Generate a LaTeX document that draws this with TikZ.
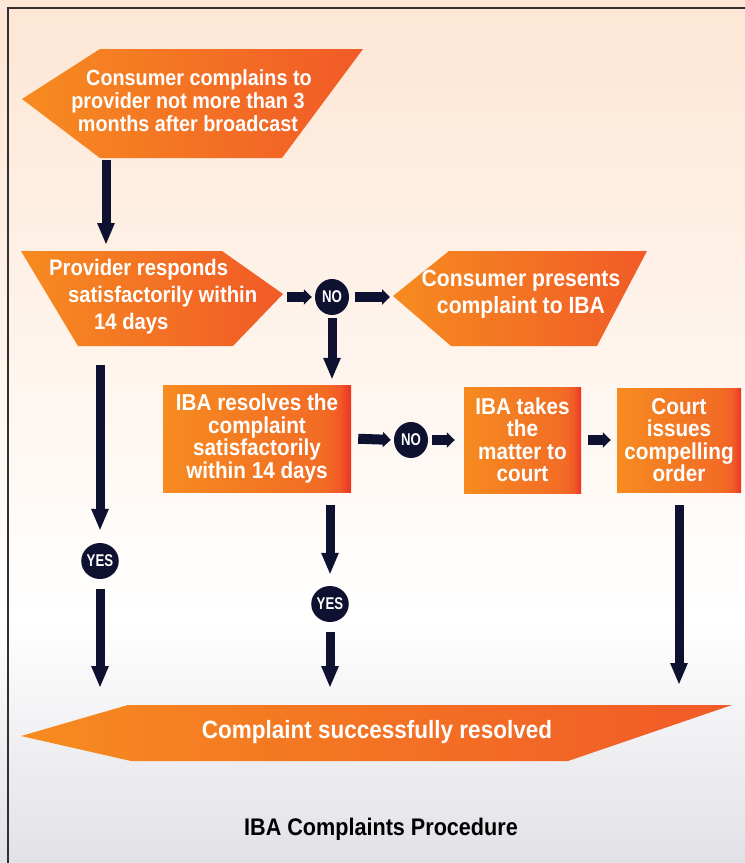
\documentclass[tikz,border=0pt]{standalone}
\usepackage{fontspec}
\setmainfont{Liberation Sans}
\newfontfamily\flowfont{Liberation Sans}[FakeStretch=0.9]
\newfontfamily\tagfont{Liberation Sans}[FakeStretch=0.78]
\usetikzlibrary{arrows.meta,positioning,shapes.geometric}

\definecolor{bgtop}{HTML}{FDE6D4}
\definecolor{bgbot}{HTML}{E1E1E7}
\definecolor{framecol}{HTML}{303030}
\definecolor{navy}{HTML}{0E1130}
\definecolor{orangeL}{HTML}{F68B20}
\definecolor{orangeR}{HTML}{F15A27}
\definecolor{orangeM}{HTML}{F26B25}
\definecolor{redR}{HTML}{EC3324}

% orange box, red strip on the right edge
\pgfdeclarehorizontalshading{boxshade}{100bp}{color(0bp)=(orangeL); color(25bp)=(orangeL);
  color(68bp)=(orangeM); color(72bp)=(orangeR); color(75bp)=(redR); color(100bp)=(redR)}

\begin{document}
\begin{tikzpicture}[x=1pt, y=-1pt,
  shapefill/.style={left color=orangeL, right color=orangeR},
  flowtext/.style={text=white, align=center, inner sep=0pt},
  stepbox/.style={shade, shading=boxshade, text=white, align=center, inner sep=0pt,
    font=\flowfont\bfseries\fontsize{23}{22.5}\selectfont},
  tag/.style={ellipse, fill=navy, text=white, minimum width=34pt, minimum height=36pt,
    inner sep=0pt, font=\tagfont\bfseries\fontsize{17}{17}\selectfont},
  flowV/.style={draw=navy, line width=9pt, -{Triangle[length=22pt,width=16pt]}},
  flowH/.style={draw=navy, line width=10pt, -{Triangle[length=8pt,width=15pt]}}
]
\useasboundingbox (0,0) rectangle (745,863);

% background and frame
\shade[top color=bgtop, bottom color=white] (0,0) rectangle (745,620);
\shade[top color=white, bottom color=bgbot] (0,620) rectangle (745,863);
\draw[framecol, line width=1.3pt] (8,863) -- (8,8) -- (745,8);

% first complaint
\shade[shapefill] (22,99) -- (100,49) -- (363,49) -- (282,158) -- (100,158) -- cycle;
\coordinate (start-s) at (106,160);
\node[flowtext, font=\flowfont\bfseries\fontsize{22}{23}\selectfont] (start) at (188,101)
  {\hspace*{22pt}Consumer complains to\\provider not more than 3\\months after broadcast};

% provider responds
\shade[shapefill] (21,251) -- (222,251) -- (283,294) -- (233,346) -- (78,346) -- cycle;
\coordinate (prov-n) at (106,251);
\coordinate (prov-e) at (283,297);
\coordinate (prov-s) at (100,346);
\node[flowtext, align=left, anchor=west, font=\flowfont\bfseries\fontsize{22.5}{27}\selectfont] (prov) at (49,297)
  {Provider responds\\\hspace*{19pt}satisfactorily within\\\hspace*{45pt}14 days};

\node[tag] (no1) at (332,297) {NO};

% consumer presents
\shade[shapefill] (393,296) -- (449,251) -- (647,251) -- (597,346) -- (451,346) -- cycle;
\coordinate (pres-w) at (393,297);
\node[flowtext, font=\flowfont\bfseries\fontsize{23.5}{27}\selectfont] (pres) at (521,294)
  {Consumer presents\\complaint to IBA};

% IBA row
\node[stepbox, minimum width=188pt, minimum height=107pt] (resolve) at (257,438.5)
  {IBA resolves the\\complaint\hspace*{10pt}\\satisfactorily\\within 14 days};
\node[tag] (no2) at (411,440) {NO};
\node[stepbox, minimum width=117pt, minimum height=106pt] (take) at (522.5,440)
  {IBA takes\\the\\matter to\\court};
\node[stepbox, minimum width=124pt, minimum height=104pt] (court) at (679,440)
  {Court\\issues\\compelling\\order};

\node[tag] (yes1) at (100,561) {YES};
\node[tag] (yes2) at (330,604) {YES};

% resolved
\shade[shapefill] (21,736) -- (128,705) -- (732,705) -- (568,761) -- (131,761) -- cycle;
\coordinate (finish-n) at (377,705);
\node[flowtext, font=\flowfont\bfseries\fontsize{25}{25}\selectfont] (finish) at (377,732)
  {Complaint successfully resolved};

\node[font=\flowfont\bfseries\fontsize{24}{24}\selectfont] (title) at (381,829)
  {IBA Complaints Procedure};

% connectors
\draw[flowV, shorten >=6pt] (start-s) -- (prov-n);
\draw[flowH, shorten <=4pt, shorten >=3pt] (prov-e) -- (no1.west);
\draw[flowH, shorten <=6pt, shorten >=3pt] (no1.east) -- (pres-w);
\draw[flowV, shorten <=3pt, shorten >=5pt] (no1.south) -- (no1.south |- resolve.north);
\draw[flowH, shorten <=7pt, shorten >=3pt] (resolve.east) -- (no2.west);
\draw[flowH, shorten <=4pt, shorten >=9pt] (no2.east) -- (take.west);
\draw[flowH, shorten <=7pt, shorten >=6pt] (take.east) -- (court.west);
\draw[flowV, shorten <=19pt, shorten >=12pt] (prov-s) -- (yes1.north);
\draw[flowV, shorten <=10pt, shorten >=17pt] (yes1.south) -- (yes1.south |- finish-n);
\draw[flowV, shorten <=13pt, shorten >=11pt] (resolve.south -| yes2) -- (yes2.north);
\draw[flowV, shorten <=10pt, shorten >=17pt] (yes2.south) -- (yes2.south |- finish-n);
\draw[flowV, shorten <=13pt, shorten >=20pt] (court.south) -- (court.south |- finish-n);
\end{tikzpicture}
\end{document}
